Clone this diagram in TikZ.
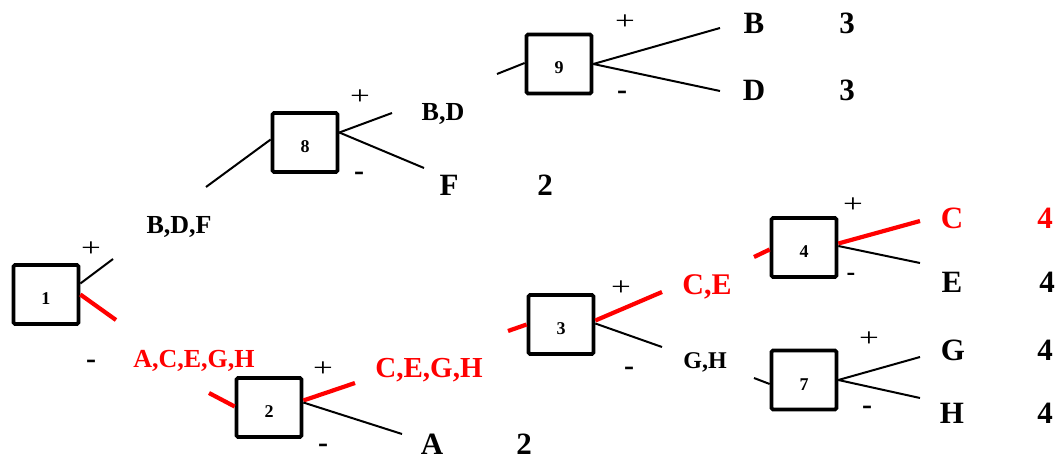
\documentclass[tikz,border=0pt]{standalone}
\usepackage{fontspec}
\setmainfont{Liberation Serif}
\begin{document}
\begin{tikzpicture}[x=1pt,y=-1pt,
  box/.style={draw, line width=3.7pt, rounded corners=1.5pt, minimum width=65pt, minimum height=59pt,
    inner sep=0pt, text height=20pt, text depth=0pt, font=\fontsize{18}{18}\selectfont\bfseries},
  lbl/.style={anchor=base, inner sep=0pt, font=\bfseries},
  blk/.style={line width=2pt, black},
  rd/.style={line width=4.2pt, red},
  pls/.style={inner sep=0pt, font=\fontsize{26}{26}\selectfont},
  mns/.style={inner sep=0pt, font=\fontsize{30}{30}\selectfont\bfseries}]
\useasboundingbox (0,0) rectangle (1061,460);
\def\fs#1{\fontsize{#1}{#1}\selectfont}
% boxes
\node[box] (b1) at (46,294.5) {1};
\node[box] (b2) at (269,407.5) {2};
\node[box] (b3) at (561,324.5) {3};
\node[box] (b4) at (804,247.5) {4};
\node[box] (b7) at (804,380) {7};
\node[box] (b8) at (305,142.5) {8};
\node[box] (b9) at (559,64) {9};
% intermediate labels
\node[lbl, font=\fs{26}\bfseries] (lbdf) at (179,233) {B,D,F};
\node[lbl, font=\fs{26}\bfseries, red] (lacegh) at (194,367) {A,C,E,G,H};
\node[lbl, font=\fs{29}\bfseries, red] (legh) at (429,377) {C,E,G,H};
\node[lbl, font=\fs{30}\bfseries, red] (lce) at (707,294) {C,E};
\node[lbl, font=\fs{24}\bfseries] (lgh) at (705,368) {G,H};
\node[lbl, font=\fs{26}\bfseries] (lbd) at (443,121) {B,D};
% leaves
\node[lbl, font=\fs{31}\bfseries] (lB) at (754,34) {B};
\node[lbl, font=\fs{31}\bfseries] (nB) at (847,34) {3};
\node[lbl, font=\fs{31}\bfseries] (lD) at (754,100) {D};
\node[lbl, font=\fs{31}\bfseries] (nD) at (847,100) {3};
\node[lbl, font=\fs{31}\bfseries] (lF) at (449,195) {F};
\node[lbl, font=\fs{31}\bfseries] (nF) at (545,195) {2};
\node[lbl, font=\fs{31}\bfseries] (lA) at (432,454) {A};
\node[lbl, font=\fs{31}\bfseries] (nA) at (524,454) {2};
\node[lbl, font=\fs{31}\bfseries, red] (lC) at (952,228) {C};
\node[lbl, font=\fs{31}\bfseries, red] (nC) at (1045,228) {4};
\node[lbl, font=\fs{31}\bfseries] (lE) at (952,292) {E};
\node[lbl, font=\fs{31}\bfseries] (nE) at (1047,292) {4};
\node[lbl, font=\fs{31}\bfseries] (lG) at (953,360) {G};
\node[lbl, font=\fs{31}\bfseries] (nG) at (1045,360) {4};
\node[lbl, font=\fs{31}\bfseries] (lH) at (952,423) {H};
\node[lbl, font=\fs{31}\bfseries] (nH) at (1045,423) {4};
% plus / minus signs
\node[pls] (p1) at (91,249) {\scalebox{1.35}[1]{+}};
\node[mns] (m1) at (91,364) {-};
\node[pls] (p2) at (323,369) {\scalebox{1.35}[1]{+}};
\node[mns] (m2) at (323,448) {-};
\node[pls] (p3) at (621,288) {\scalebox{1.35}[1]{+}};
\node[mns] (m3) at (629,371) {-};
\node[pls] (p4) at (853,205) {\scalebox{1.35}[1]{+}};
\node[mns, font=\fs{26}\bfseries] (m4) at (851,277) {-};
\node[pls] (p7) at (869,339) {\scalebox{1.35}[1]{+}};
\node[mns] (m7) at (867,410) {-};
\node[pls] (p8) at (360,97) {\scalebox{1.35}[1]{+}};
\node[mns] (m8) at (359,176) {-};
\node[pls] (p9) at (625,22) {\scalebox{1.35}[1]{+}};
\node[mns] (m9) at (622,95) {-};
% free ends
\coordinate (e1p) at (113,259);
\coordinate (e1m) at (116,320);
\coordinate (s2) at (209,393);
\coordinate (e2p) at (355,383);
\coordinate (e2m) at (402,434);
\coordinate (s3) at (508,331);
\coordinate (e3p) at (662,292);
\coordinate (e3m) at (662,347);
\coordinate (s4) at (754,257);
\coordinate (e4p) at (920,221);
\coordinate (e4m) at (920,263);
\coordinate (s7) at (754,378);
\coordinate (e7p) at (920,357);
\coordinate (e7m) at (920,398);
\coordinate (s8) at (206,187);
\coordinate (e8p) at (392,113);
\coordinate (e8m) at (424,168);
\coordinate (s9) at (497,74);
\coordinate (e9p) at (720,28);
\coordinate (e9m) at (720,91);
% connectors
\draw[blk] ([yshift=11pt]b1.east) -- (e1p);
\draw[rd] (b1.east) -- (e1m);
\draw[rd] (s2) -- ([yshift=1pt]b2.west);
\draw[rd] ([yshift=7pt]b2.east) -- (e2p);
\draw[blk] ([yshift=5pt]b2.east) -- (e2m);
\draw[rd] (s3) -- ([yshift=0pt]b3.west);
\draw[rd] ([yshift=4pt]b3.east) -- (e3p);
\draw[blk] ([yshift=1pt]b3.east) -- (e3m);
\draw[rd] (s4) -- ([yshift=-2pt]b4.west);
\draw[rd] ([yshift=4pt]b4.east) -- (e4p);
\draw[blk] ([yshift=1.5pt]b4.east) -- (e4m);
\draw[blk] (s7) -- ([yshift=-4pt]b7.west);
\draw[blk] (b7.east) -- (e7p);
\draw[blk] (b7.east) -- (e7m);
\draw[blk] (s8) -- ([yshift=3pt]b8.west);
\draw[blk] ([yshift=10pt]b8.east) -- (e8p);
\draw[blk] ([yshift=10pt]b8.east) -- (e8m);
\draw[blk] (s9) -- ([yshift=1pt]b9.west);
\draw[blk] (b9.east) -- (e9p);
\draw[blk] (b9.east) -- (e9m);
\end{tikzpicture}
\end{document}
